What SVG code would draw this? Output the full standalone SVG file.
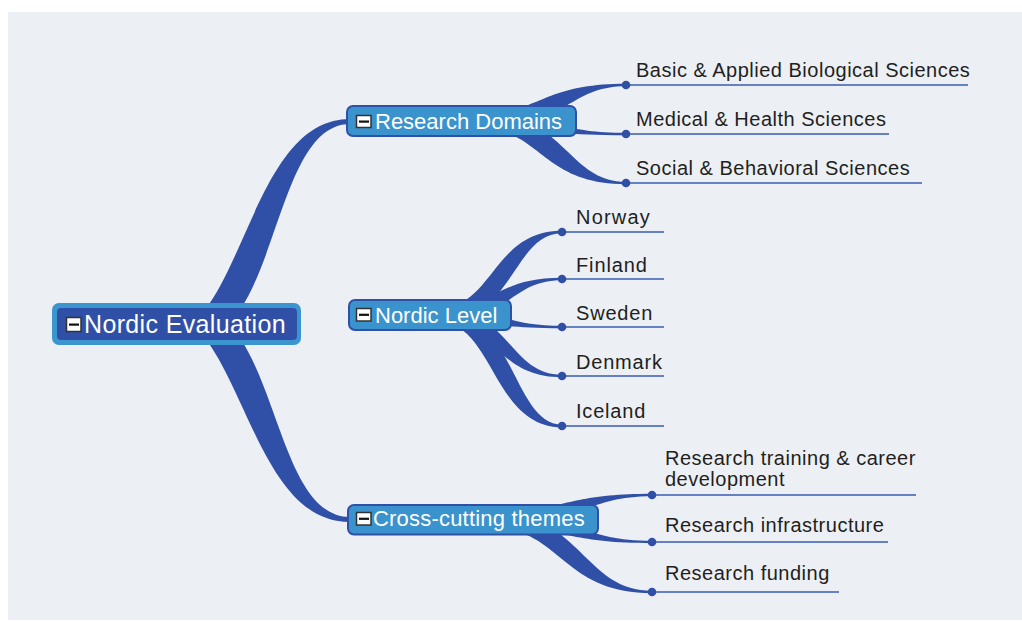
<svg xmlns="http://www.w3.org/2000/svg" width="1022" height="621" viewBox="0 0 1022 621">
<style>
.conn{fill:#3050A8;stroke:none}
.leafline{stroke:#3A5DB0;stroke-width:1.6;fill:none}
.dot{fill:#3050A8}
.child{fill:#3A93CC;stroke:#3050A8;stroke-width:2}
.ctext{font-family:"Liberation Sans",Arial,sans-serif;font-size:22px;fill:#FFFFFF}
.rtext{font-family:"Liberation Sans",Arial,sans-serif;font-size:25px;fill:#FFFFFF;letter-spacing:0.35px}
.ltext{font-family:"Liberation Sans",Arial,sans-serif;font-size:20px;fill:#231F20;letter-spacing:0.5px}
.ibox{fill:#FFFFFF;stroke:#333333;stroke-width:1.5}
.ibar{fill:#111111}
</style>
<rect x="0" y="0" width="1022" height="621" fill="#FFFFFF"/>
<rect x="8" y="12" width="1014" height="608" fill="#ECEFF4"/>
<g id="connectors">
<path class="conn" d="M205,310 C250,250 270,119 350,119 L350,124 C290,124 280,250 240,310 Z"/>
<path class="conn" d="M205,338 C250,398 270,522 350,522 L350,517 C290,517 280,398 240,338 Z"/>
<path class="conn" d="M480,113.5 C541,113.5 541,83.8 626,83.8 L626,86.2 C567,86.2 567,128.5 480,128.5 Z"/>
<path class="conn" d="M480,113.5 C553,113.5 553,132.8 626,132.8 L626,135.2 C553,135.2 553,128.5 480,128.5 Z"/>
<path class="conn" d="M480,113.5 C567,113.5 567,181.8 626,181.8 L626,184.2 C541,184.2 541,128.5 480,128.5 Z"/>
<path class="conn" d="M440,307.5 C493,307.5 493,230.8 562,230.8 L562,233.2 C513,233.2 513,322.5 440,322.5 Z"/>
<path class="conn" d="M440,307.5 C496,307.5 496,277.8 562,277.8 L562,280.2 C509,280.2 509,322.5 440,322.5 Z"/>
<path class="conn" d="M440,307.5 C501,307.5 501,325.8 562,325.8 L562,328.2 C501,328.2 501,322.5 440,322.5 Z"/>
<path class="conn" d="M440,307.5 C509,307.5 509,374.8 562,374.8 L562,377.2 C496,377.2 496,322.5 440,322.5 Z"/>
<path class="conn" d="M440,307.5 C513,307.5 513,424.8 562,424.8 L562,427.2 C493,427.2 493,322.5 440,322.5 Z"/>
<path class="conn" d="M490,512.5 C563,512.5 563,493.8 652,493.8 L652,496.2 C581,496.2 581,527.5 490,527.5 Z"/>
<path class="conn" d="M490,512.5 C577,512.5 577,540.8 652,540.8 L652,543.2 C567,543.2 567,527.5 490,527.5 Z"/>
<path class="conn" d="M490,512.5 C583,512.5 583,590.8 652,590.8 L652,593.2 C561,593.2 561,527.5 490,527.5 Z"/>
</g>
<g id="root">
<rect x="52" y="303" width="249" height="42" rx="7" fill="#3B95CE"/>
<rect x="57" y="308" width="240" height="32" rx="4" fill="#3050A8"/>
<rect class="ibox" x="66.5" y="317.5" width="14.5" height="14"/>
<rect class="ibar" x="69" y="323.5" width="10" height="2.2"/>
<text class="rtext" x="84" y="333">Nordic Evaluation</text>
</g>
<g id="research-domains">
<rect class="child" x="347" y="106" width="229" height="30" rx="6"/>
<rect class="ibox" x="356.5" y="115.5" width="14.5" height="12"/>
<rect class="ibar" x="359" y="120.5" width="10" height="2.2"/>
<text class="ctext" x="375" y="129">Research Domains</text>
</g>
<g id="nordic-level">
<rect class="child" x="349" y="300" width="162" height="30" rx="6"/>
<rect class="ibox" x="356.5" y="308.5" width="14.5" height="12.5"/>
<rect class="ibar" x="359" y="313.7" width="10" height="2.2"/>
<text class="ctext" x="375" y="323">Nordic Level</text>
</g>
<g id="cross-cutting">
<rect class="child" x="348" y="505" width="250" height="29.5" rx="6"/>
<rect class="ibox" x="356.5" y="512.5" width="14.5" height="12.5"/>
<rect class="ibar" x="359" y="517.7" width="10" height="2.2"/>
<text class="ctext" x="373" y="526" style="letter-spacing:0.2px">Cross-cutting themes</text>
</g>
<g id="leaf-basic">
<line class="leafline" x1="626" y1="85" x2="968" y2="85"/>
<circle class="dot" cx="626" cy="85" r="4.3"/>
<text class="ltext" x="636" y="77">Basic &amp; Applied Biological Sciences</text>
</g>
<g id="leaf-medical">
<line class="leafline" x1="626" y1="134" x2="889" y2="134"/>
<circle class="dot" cx="626" cy="134" r="4.3"/>
<text class="ltext" x="636" y="126">Medical &amp; Health Sciences</text>
</g>
<g id="leaf-social">
<line class="leafline" x1="626" y1="183" x2="922" y2="183"/>
<circle class="dot" cx="626" cy="183" r="4.3"/>
<text class="ltext" x="636" y="174.5">Social &amp; Behavioral Sciences</text>
</g>
<g id="leaf-norway">
<line class="leafline" x1="562" y1="232" x2="664" y2="232"/>
<circle class="dot" cx="562" cy="232" r="4.3"/>
<text class="ltext" x="576" y="223.5" style="letter-spacing:1.2px">Norway</text>
</g>
<g id="leaf-finland">
<line class="leafline" x1="562" y1="279" x2="664" y2="279"/>
<circle class="dot" cx="562" cy="279" r="4.3"/>
<text class="ltext" x="576" y="271.5" style="letter-spacing:0.9px">Finland</text>
</g>
<g id="leaf-sweden">
<line class="leafline" x1="562" y1="327" x2="664" y2="327"/>
<circle class="dot" cx="562" cy="327" r="4.3"/>
<text class="ltext" x="576" y="319.5" style="letter-spacing:0.8px">Sweden</text>
</g>
<g id="leaf-denmark">
<line class="leafline" x1="562" y1="376" x2="664" y2="376"/>
<circle class="dot" cx="562" cy="376" r="4.3"/>
<text class="ltext" x="576" y="368.5" style="letter-spacing:0.8px">Denmark</text>
</g>
<g id="leaf-iceland">
<line class="leafline" x1="562" y1="426" x2="664" y2="426"/>
<circle class="dot" cx="562" cy="426" r="4.3"/>
<text class="ltext" x="576" y="417.5" style="letter-spacing:0.8px">Iceland</text>
</g>
<g id="leaf-training">
<line class="leafline" x1="652" y1="495" x2="916" y2="495"/>
<circle class="dot" cx="652" cy="495" r="4.3"/>
<text class="ltext" x="665" y="465">Research training &amp; career</text>
<text class="ltext" x="665" y="485.5">development</text>
</g>
<g id="leaf-infrastructure">
<line class="leafline" x1="652" y1="542" x2="888" y2="542"/>
<circle class="dot" cx="652" cy="542" r="4.3"/>
<text class="ltext" x="665" y="532">Research infrastructure</text>
</g>
<g id="leaf-funding">
<line class="leafline" x1="652" y1="592" x2="839" y2="592"/>
<circle class="dot" cx="652" cy="592" r="4.3"/>
<text class="ltext" x="665" y="579.5">Research funding</text>
</g>
</svg>
